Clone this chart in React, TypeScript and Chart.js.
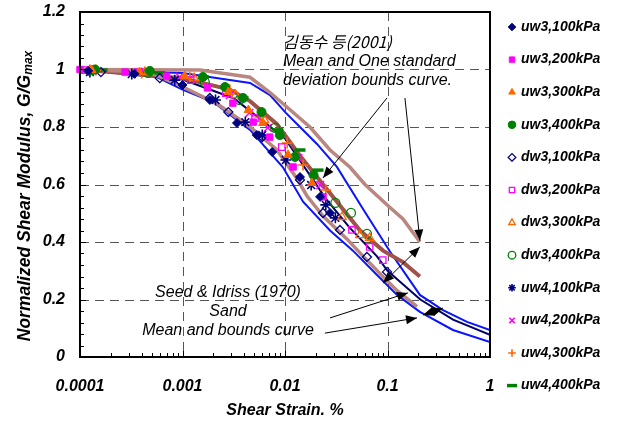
import React, { useEffect, useRef } from 'react';
import { Chart, registerables } from 'chart.js';
import { drawPoint } from 'chart.js/helpers';
Chart.register(...registerables);

// ---- axis ticks ----
const xTickValues = [0.0001, 0.001, 0.01, 0.1, 1];
const yTickValues = [0, 0.2, 0.4, 0.6, 0.8, 1.0, 1.2];

// ---- test data (strain %, G/Gmax) ----
const uw3_100_strain = [1.2e-4, 3.4e-4, 1.0e-3, 1.85e-3, 3.4e-3, 5.3e-3, 7.5e-3, 0.014, 0.022, 0.0275];
const uw3_100_ratio = [0.995, 0.985, 0.946, 0.894, 0.814, 0.772, 0.713, 0.626, 0.557, 0.501];
const uw3_200_strain = [1e-4, 2.75e-4, 7e-4, 1.75e-3, 3.1e-3, 4.9e-3, 7.1e-3, 0.012, 0.0235];
const uw3_200_ratio = [1.0, 0.991, 0.977, 0.936, 0.883, 0.817, 0.765, 0.661, 0.557];
const uw3_300_strain = [1.3e-4, 3.8e-4, 1.05e-3, 2.8e-3, 4.4e-3, 6.1e-3, 0.0107, 0.0183];
const uw3_300_ratio = [0.998, 0.991, 0.977, 0.922, 0.859, 0.814, 0.703, 0.605];
const uw3_400_strain = [1.4e-4, 4.8e-4, 1.58e-3, 2.6e-3, 3.9e-3, 5.9e-3, 8.9e-3, 0.0125, 0.019];
const uw3_400_ratio = [1.0, 0.995, 0.974, 0.939, 0.901, 0.852, 0.772, 0.696, 0.633];
const dw3_100_strain = [1.6e-4, 6e-4, 1.85e-3, 2.8e-3, 6e-3, 0.014, 0.0235, 0.0344, 0.063, 0.099];
const dw3_100_ratio = [0.991, 0.970, 0.901, 0.852, 0.765, 0.616, 0.501, 0.442, 0.348, 0.296];
const dw3_200_strain = [1.1e-4, 3.8e-4, 1.2e-3, 2.65e-3, 5.1e-3, 9.3e-3, 0.045, 0.067, 0.09];
const dw3_200_ratio = [0.998, 0.991, 0.963, 0.918, 0.831, 0.730, 0.442, 0.383, 0.337];
const dw3_300_strain = [1.25e-4, 4.3e-4, 1.3e-3, 3.3e-3, 6.3e-3, 0.036, 0.054, 0.067];
const dw3_300_ratio = [0.998, 0.991, 0.970, 0.911, 0.824, 0.487, 0.424, 0.414];
const dw3_400_strain = [1.3e-4, 4.6e-4, 1.65e-3, 3.6e-3, 8e-3, 0.031, 0.044, 0.063];
const dw3_400_ratio = [0.998, 0.988, 0.956, 0.894, 0.797, 0.536, 0.501, 0.428];
const uw4_100_strain = [1.25e-4, 3.2e-4, 8.4e-4, 2.1e-3, 4.1e-3, 6e-3, 0.0102, 0.018, 0.025, 0.031];
const uw4_100_ratio = [0.991, 0.984, 0.963, 0.894, 0.817, 0.772, 0.685, 0.598, 0.529, 0.484];
const uw4_200_strain = [1.34e-4, 3.7e-4, 9.4e-4, 2.9e-3, 4.5e-3, 6.8e-3, 0.0135, 0.022];
const uw4_200_ratio = [0.998, 0.991, 0.974, 0.911, 0.849, 0.797, 0.692, 0.598];
const uw4_300_strain = [1.43e-4, 4.0e-4, 1.18e-3, 2.9e-3, 5.7e-3, 0.0105, 0.015, 0.025];
const uw4_300_ratio = [0.998, 0.988, 0.974, 0.929, 0.835, 0.744, 0.668, 0.581];
const uw4_400_strain = [1.64e-4, 6e-4, 1.6e-3, 3.9e-3, 8.5e-3, 0.014, 0.021];
const uw4_400_ratio = [0.998, 0.988, 0.974, 0.901, 0.790, 0.72, 0.65];

// ---- reference curves ----
const seedUpper_strain = [1e-4, 1e-3, 4.56e-3, 7.14e-3, 0.0102, 0.014, 0.0205, 0.0321, 0.0577, 0.1057, 0.207, 0.348, 0.597, 1];
const seedUpper_ratio = [1.0, 0.988, 0.953, 0.911, 0.849, 0.80, 0.741, 0.661, 0.515, 0.367, 0.216, 0.163, 0.122, 0.094];
const seedLower_strain = [1e-4, 4.82e-4, 1e-3, 1.99e-3, 4.56e-3, 9.55e-3, 0.015, 0.0275, 0.046, 0.079, 0.124, 0.207, 0.435, 1];
const seedLower_ratio = [1.0, 0.985, 0.93, 0.887, 0.79, 0.66, 0.54, 0.44, 0.37, 0.285, 0.216, 0.157, 0.094, 0.052];
const seedMean_strain = [1e-4, 1e-3, 3.16e-3, 0.01, 0.0251, 0.0427, 0.079, 0.1, 0.209, 0.436, 1];
const seedMean_ratio = [1.0, 0.965, 0.90, 0.76, 0.55, 0.45, 0.35, 0.30, 0.20, 0.13, 0.077];
const kimUpper_strain = [1e-4, 1.48e-3, 4.56e-3, 7.14e-3, 0.0112, 0.0175, 0.0275, 0.0431, 0.0603, 0.1057, 0.1416, 0.207];
const kimUpper_ratio = [1.0, 0.998, 0.973, 0.92, 0.86, 0.80, 0.72, 0.66, 0.60, 0.52, 0.48, 0.40];
const kimMean_strain = [1e-4, 1e-3, 2.9e-3, 4.56e-3, 8.35e-3, 0.014, 0.0235, 0.0321, 0.054, 0.0904, 0.1416, 0.207];
const kimMean_ratio = [1.0, 0.97, 0.93, 0.89, 0.81, 0.70, 0.60, 0.54, 0.44, 0.37, 0.33, 0.28];
const kimLower_strain = [1e-4, 4.8e-4, 1e-3, 2.2e-3, 4.56e-3, 8.35e-3, 0.0131, 0.0164, 0.0235, 0.0403, 0.058, 0.09, 0.125, 0.194];
const kimLower_ratio = [1.0, 0.99, 0.94, 0.88, 0.80, 0.72, 0.62, 0.56, 0.49, 0.41, 0.35, 0.28, 0.23, 0.175];

const NAVY = '#000080';
const MAGENTA = '#ff00ff';
const ORANGE = '#ff6600';
const GREEN = '#008000';

const zip = (xs: number[], ys: number[]) => xs.map((x, i) => ({ x, y: ys[i] }));

type Marker = { label: string; xs: number[]; ys: number[]; style: string; color: string; filled: boolean; radius: number; bw: number };
const markers: Marker[] = [
  { label: 'uw3,100kPa', xs: uw3_100_strain, ys: uw3_100_ratio, style: 'rectRot', color: NAVY, filled: true, radius: 4.5, bw: 1 },
  { label: 'uw3,200kPa', xs: uw3_200_strain, ys: uw3_200_ratio, style: 'rect', color: MAGENTA, filled: true, radius: 4.5, bw: 1 },
  { label: 'uw3,300kPa', xs: uw3_300_strain, ys: uw3_300_ratio, style: 'triangle', color: ORANGE, filled: true, radius: 5, bw: 1 },
  { label: 'uw3,400kPa', xs: uw3_400_strain, ys: uw3_400_ratio, style: 'circle', color: GREEN, filled: true, radius: 4.5, bw: 1 },
  { label: 'dw3,100kPa', xs: dw3_100_strain, ys: dw3_100_ratio, style: 'rectRot', color: NAVY, filled: false, radius: 4.5, bw: 1.3 },
  { label: 'dw3,200kPa', xs: dw3_200_strain, ys: dw3_200_ratio, style: 'rect', color: MAGENTA, filled: false, radius: 4.5, bw: 1.3 },
  { label: 'dw3,300kPa', xs: dw3_300_strain, ys: dw3_300_ratio, style: 'triangle', color: ORANGE, filled: false, radius: 5, bw: 1.3 },
  { label: 'dw3,400kPa', xs: dw3_400_strain, ys: dw3_400_ratio, style: 'circle', color: GREEN, filled: false, radius: 4.5, bw: 1.3 },
  { label: 'uw4,100kPa', xs: uw4_100_strain, ys: uw4_100_ratio, style: 'star', color: NAVY, filled: false, radius: 5.5, bw: 1.6 },
  { label: 'uw4,200kPa', xs: uw4_200_strain, ys: uw4_200_ratio, style: 'crossRot', color: MAGENTA, filled: false, radius: 5.5, bw: 1.6 },
  { label: 'uw4,300kPa', xs: uw4_300_strain, ys: uw4_300_ratio, style: 'cross', color: ORANGE, filled: false, radius: 5.5, bw: 1.6 },
  { label: 'uw4,400kPa', xs: uw4_400_strain, ys: uw4_400_ratio, style: 'line', color: GREEN, filled: false, radius: 5.5, bw: 3.5 },
];

type Curve = { xs: number[]; ys: number[]; color: string; width: number };
const curves: Curve[] = [
  { xs: kimUpper_strain, ys: kimUpper_ratio, color: '#b98680', width: 3.5 },
  { xs: kimLower_strain, ys: kimLower_ratio, color: '#b98680', width: 3.5 },
  { xs: kimMean_strain, ys: kimMean_ratio, color: '#a0524a', width: 4 },
  { xs: seedUpper_strain, ys: seedUpper_ratio, color: '#0a14ff', width: 2 },
  { xs: seedLower_strain, ys: seedLower_ratio, color: '#0a14ff', width: 2 },
  { xs: seedMean_strain, ys: seedMean_ratio, color: '#000066', width: 2 },
];

// annotation arrows in data coords: [x1,y1,x2,y2, headStart, headEnd]
const arrows: [number, number, number, number, boolean, boolean][] = [
  [0.0989, 0.901, 0.0235, 0.623, false, true],
  [0.148, 0.901, 0.207, 0.405, false, true],
  [0.0904, 0.257, 0.207, 0.383, true, true],
  [0.0275, 0.136, 0.158, 0.223, false, true],
  [0.0245, 0.083, 0.194, 0.136, false, true],
  [0.222, 0.146, 0.348, 0.170, true, true],
];

const FONT = 'Arial, "Liberation Sans", sans-serif';

function arrowHead(ctx: CanvasRenderingContext2D, fx: number, fy: number, tx: number, ty: number) {
  const ang = Math.atan2(ty - fy, tx - fx);
  const L = 11, W = 4.5;
  ctx.beginPath();
  ctx.moveTo(tx, ty);
  ctx.lineTo(tx - L * Math.cos(ang) + W * Math.sin(ang), ty - L * Math.sin(ang) - W * Math.cos(ang));
  ctx.lineTo(tx - L * Math.cos(ang) - W * Math.sin(ang), ty - L * Math.sin(ang) + W * Math.cos(ang));
  ctx.closePath();
  ctx.fill();
}

const decor = {
  id: 'decor',
  beforeDatasetsDraw(chart: any) {
    const { ctx, chartArea: a, scales } = chart;
    const x = scales.x, y = scales.y;
    ctx.save();
    ctx.strokeStyle = '#555';
    ctx.lineWidth = 1;
    ctx.setLineDash([9, 6]);
    for (const v of xTickValues.slice(1, -1)) {
      const px = Math.round(x.getPixelForValue(v)) + 0.5;
      ctx.beginPath(); ctx.moveTo(px, a.top); ctx.lineTo(px, a.bottom); ctx.stroke();
    }
    for (const v of yTickValues.slice(1, -1)) {
      const py = Math.round(y.getPixelForValue(v)) + 0.5;
      ctx.beginPath(); ctx.moveTo(a.left, py); ctx.lineTo(a.right, py); ctx.stroke();
    }
    ctx.restore();
  },
  afterDatasetsDraw(chart: any) {
    const { ctx, chartArea: a, scales } = chart;
    const x = scales.x, y = scales.y;
    ctx.save();
    // ticks
    ctx.strokeStyle = '#000';
    ctx.lineWidth = 1;
    for (let i = 1; i < 30; i++) {
      const v = i * 0.04;
      const py = Math.round(y.getPixelForValue(v)) + 0.5;
      const len = i % 5 === 0 ? 6 : 4;
      ctx.beginPath(); ctx.moveTo(a.left, py); ctx.lineTo(a.left + len, py); ctx.stroke();
    }
    for (let d = -4; d < 0; d++) {
      for (let m = 1; m <= 9; m++) {
        const v = m * Math.pow(10, d);
        const px = Math.round(x.getPixelForValue(v)) + 0.5;
        const len = m === 1 ? 6 : 4;
        ctx.beginPath(); ctx.moveTo(px, a.bottom); ctx.lineTo(px, a.bottom - len); ctx.stroke();
      }
    }
    // border
    ctx.lineWidth = 2;
    ctx.strokeRect(a.left, a.top, a.right - a.left, a.bottom - a.top);

    // arrows
    ctx.fillStyle = '#000';
    ctx.lineWidth = 1;
    for (const [x1, y1, x2, y2, hs, he] of arrows) {
      const p1x = x.getPixelForValue(x1), p1y = y.getPixelForValue(y1);
      const p2x = x.getPixelForValue(x2), p2y = y.getPixelForValue(y2);
      ctx.beginPath(); ctx.moveTo(p1x, p1y); ctx.lineTo(p2x, p2y); ctx.stroke();
      if (he) arrowHead(ctx, p1x, p1y, p2x, p2y);
      if (hs) arrowHead(ctx, p2x, p2y, p1x, p1y);
    }

    // annotation text
    ctx.fillStyle = '#000';
    ctx.textBaseline = 'middle';
    ctx.textAlign = 'left';
    ctx.font = `italic 16px "Noto Sans CJK KR", ${FONT}`;
    ctx.fillText('김동수 등(2001)', 283, 42);
    ctx.font = `italic 16px ${FONT}`;
    ctx.fillText('Mean and One standard', 283, 62);
    ctx.fillText('deviation bounds curve.', 283, 81);
    ctx.textAlign = 'center';
    ctx.fillText('Seed & Idriss (1970)', 228, 293);
    ctx.fillText('Sand', 228, 312);
    ctx.fillText('Mean and bounds curve', 228, 331);
    ctx.restore();
  },
  afterDraw(chart: any) {
    const { ctx, chartArea: a } = chart;
    ctx.save();
    // legend
    markers.forEach((m, i) => {
      const cy = 27 + i * 32.6;
      ctx.fillStyle = m.filled ? m.color : '#fff';
      ctx.strokeStyle = m.color;
      ctx.lineWidth = m.bw;
      drawPoint(ctx, { pointStyle: m.style, radius: m.style === 'line' ? 5 : 3.8, rotation: 0, borderWidth: m.bw }, 512, cy);
      ctx.fillStyle = '#000';
      ctx.font = `italic bold 14px ${FONT}`;
      ctx.textBaseline = 'middle';
      ctx.textAlign = 'left';
      ctx.fillText(m.label, 521, cy);
    });
    // x title
    ctx.fillStyle = '#000';
    ctx.font = `italic bold 16px ${FONT}`;
    ctx.textAlign = 'center';
    ctx.textBaseline = 'middle';
    ctx.fillText('Shear Strain. %', (a.left + a.right) / 2, 411);
    // y title with subscript
    ctx.translate(25, 196);
    ctx.rotate(-Math.PI / 2);
    const main = 'Normalized Shear Modulus, G/G';
    ctx.font = `italic bold 17.5px ${FONT}`;
    const w1 = ctx.measureText(main).width;
    ctx.font = `italic bold 12px ${FONT}`;
    const w2 = ctx.measureText('max').width;
    const start = -(w1 + w2) / 2;
    ctx.textAlign = 'left';
    ctx.font = `italic bold 17.5px ${FONT}`;
    ctx.fillText(main, start, 0);
    ctx.font = `italic bold 12px ${FONT}`;
    ctx.fillText('max', start + w1, 4);
    ctx.restore();
  },
};

export default function App() {
  const ref = useRef<HTMLCanvasElement>(null);
  useEffect(() => {
    if (!ref.current) return;
    const datasets: any[] = [];
    markers.forEach((m) => {
      datasets.push({
        type: 'scatter',
        label: m.label,
        data: zip(m.xs, m.ys),
        pointStyle: m.style,
        pointRadius: m.radius,
        pointBackgroundColor: m.filled ? m.color : 'rgba(255,255,255,0)',
        pointBorderColor: m.color,
        pointBorderWidth: m.bw,
        showLine: false,
        clip: false,
      });
    });
    curves.forEach((c, i) => {
      datasets.push({
        type: 'line',
        label: 'curve' + i,
        data: zip(c.xs, c.ys),
        borderColor: c.color,
        borderWidth: c.width,
        pointRadius: 0,
        tension: 0,
        fill: false,
        showLine: true,
      });
    });
    const chart = new Chart(ref.current, {
      type: 'scatter',
      data: { datasets },
      options: {
        animation: false,
        responsive: false,
        maintainAspectRatio: false,
        layout: { padding: { top: 12, right: 128, left: 0, bottom: 0 } },
        plugins: { legend: { display: false }, tooltip: { enabled: false } },
        scales: {
          x: {
            type: 'logarithmic',
            min: 0.0001,
            max: 1,
            grid: { display: false, drawTicks: false },
            border: { display: false },
            afterBuildTicks: (s: any) => { s.ticks = xTickValues.map((v) => ({ value: v })); },
            afterFit: (s: any) => { s.height = 66; s.paddingLeft = 0; s.paddingRight = 0; },
            ticks: {
              autoSkip: false,
              maxRotation: 0,
              padding: 20,
              color: '#000',
              font: { family: FONT, size: 16, style: 'italic', weight: 'bold' },
              callback: (v: any) => String(v),
            },
          },
          y: {
            type: 'linear',
            min: 0,
            max: 1.2,
            grid: { display: false, drawTicks: false },
            border: { display: false },
            afterBuildTicks: (s: any) => { s.ticks = yTickValues.map((v) => ({ value: v })); },
            afterFit: (s: any) => { s.width = 80; s.paddingTop = 0; s.paddingBottom = 0; },
            ticks: {
              padding: 15,
              color: '#000',
              font: { family: FONT, size: 16, style: 'italic', weight: 'bold' },
              callback: (v: any) => String(+Number(v).toFixed(1)),
            },
          },
        },
      },
      plugins: [decor],
    } as any);
    return () => chart.destroy();
  }, []);
  return (
    <div style={{ position: 'fixed', left: 0, top: 0, width: 618, height: 423, background: '#fff' }}>
      <canvas ref={ref} width={618} height={423} style={{ width: 618, height: 423 }} />
    </div>
  );
}
